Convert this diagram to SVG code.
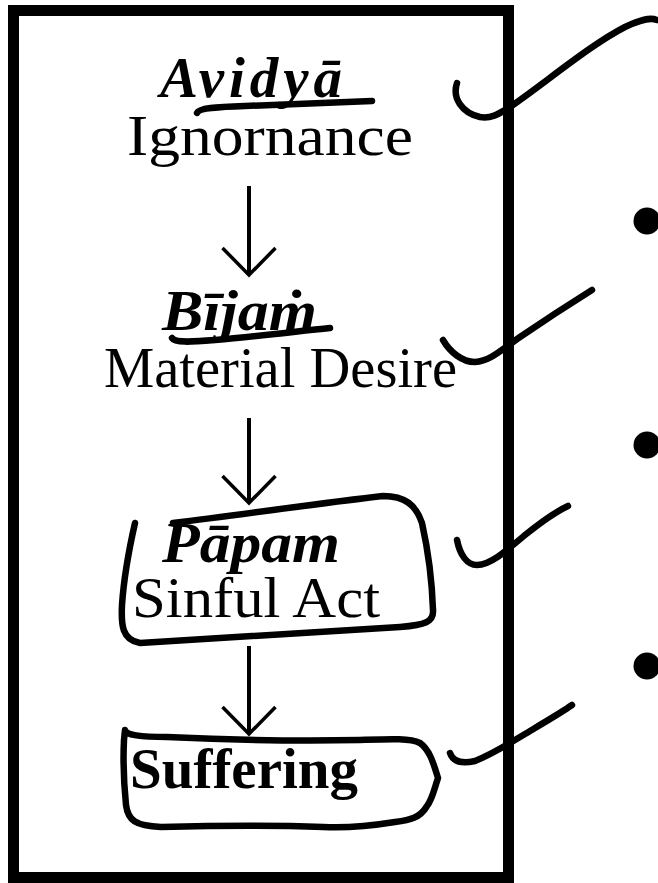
<svg xmlns="http://www.w3.org/2000/svg" width="658" height="883" viewBox="0 0 658 883">
  <style>
    .t{font-family:"Liberation Serif","Times New Roman",serif;fill:#000}
    .h{font-weight:bold;font-style:italic;font-size:57px}
    .r{font-size:58px}
    .b{font-weight:bold;font-size:56px}
    .ink{fill:none;stroke:#000;stroke-width:6.5;stroke-linecap:round;stroke-linejoin:round}
    .flow{stroke:#000;stroke-width:4;fill:none}
    .dot{fill:#000}
  </style>
  <defs>
    <marker id="vhead" markerUnits="userSpaceOnUse" markerWidth="60" markerHeight="60" refX="0" refY="0" orient="auto" overflow="visible">
      <path d="M-27,-26.5 L0,0 L-27,26.5" fill="none" stroke="#000" stroke-width="3.5"/>
    </marker>
  </defs>

  <!-- frame -->
  <rect x="13.5" y="10.5" width="495" height="867" fill="none" stroke="#000" stroke-width="11"/>

  <!-- flow arrows -->
  <g id="connectors">
    <line class="flow" x1="249" y1="186" x2="249" y2="275" marker-end="url(#vhead)"/>
    <line class="flow" x1="249" y1="418" x2="249" y2="503" marker-end="url(#vhead)"/>
    <line class="flow" x1="249" y1="646" x2="249" y2="734" marker-end="url(#vhead)"/>
  </g>

  <g id="avidya">
    <text class="t h" x="160" y="97" textLength="182" lengthAdjust="spacing">Avidyā</text>
    <path class="ink" d="M197,113 C199,108 215,107 245,106 C295,104 340,102 372,101"/>
    <text class="t r" x="127" y="155" textLength="286" lengthAdjust="spacingAndGlyphs">Ignornance</text>
  </g>

  <g id="bijam">
    <text class="t h" x="162" y="330" textLength="155" lengthAdjust="spacingAndGlyphs">Bījaṁ</text>
    <path class="ink" d="M172,338 C175,343 190,342 215,340 C260,336 300,331 330,328"/>
    <text class="t r" x="104" y="387" textLength="353" lengthAdjust="spacingAndGlyphs">Material Desire</text>
  </g>

  <g id="papam">
    <path class="ink" d="M135,523 C130,545 124,575 122,605 C121,625 122,640 140,643 C200,639 300,633 400,627 C425,625 434,622 433,610 C432,580 428,550 422,523 C416,505 405,496 383,496 C330,502 260,512 173,523"/>
    <text class="t h" x="162" y="562" textLength="178" lengthAdjust="spacingAndGlyphs">Pāpam</text>
    <text class="t r" x="132" y="617" textLength="248" lengthAdjust="spacingAndGlyphs">Sinful Act</text>
  </g>

  <g id="suffering">
    <path class="ink" d="M125,730 C126,735 140,737 167,737 C230,740 300,741 360,740 C390,739 410,738 420,743 C430,750 434,765 438,778 C434,790 432,800 427,806 C420,818 410,820 395,822 C370,826 340,828 323,827 C270,825 200,826 161,827 C135,826 128,820 126,805 C124,785 123,760 124,740 Z"/>
    <text class="t b" x="130" y="788" textLength="228" lengthAdjust="spacingAndGlyphs">Suffering</text>
  </g>

  <!-- pen strokes pointing to the notes -->
  <g id="marks">
    <path class="ink" d="M457,83 C452,98 462,113 480,117 C492,119 500,113 510,107 C545,83 590,45 625,27 C640,20 650,17 657,20"/>
    <path class="ink" d="M443,340 C450,352 462,362 475,362 C490,361 500,351 520,337 C545,320 568,305 592,290"/>
    <path class="ink" d="M457,540 C460,555 467,565 477,565 C490,565 505,552 525,535 C540,523 555,512 568,506"/>
    <path class="ink" d="M450,753 C453,762 462,764 475,761 C495,753 515,740 535,728 C550,719 562,712 572,705"/>
    <circle class="dot" cx="647" cy="221" r="13.5"/>
    <circle class="dot" cx="647" cy="445" r="13.5"/>
    <circle class="dot" cx="647" cy="666" r="13.5"/>
  </g>
</svg>
